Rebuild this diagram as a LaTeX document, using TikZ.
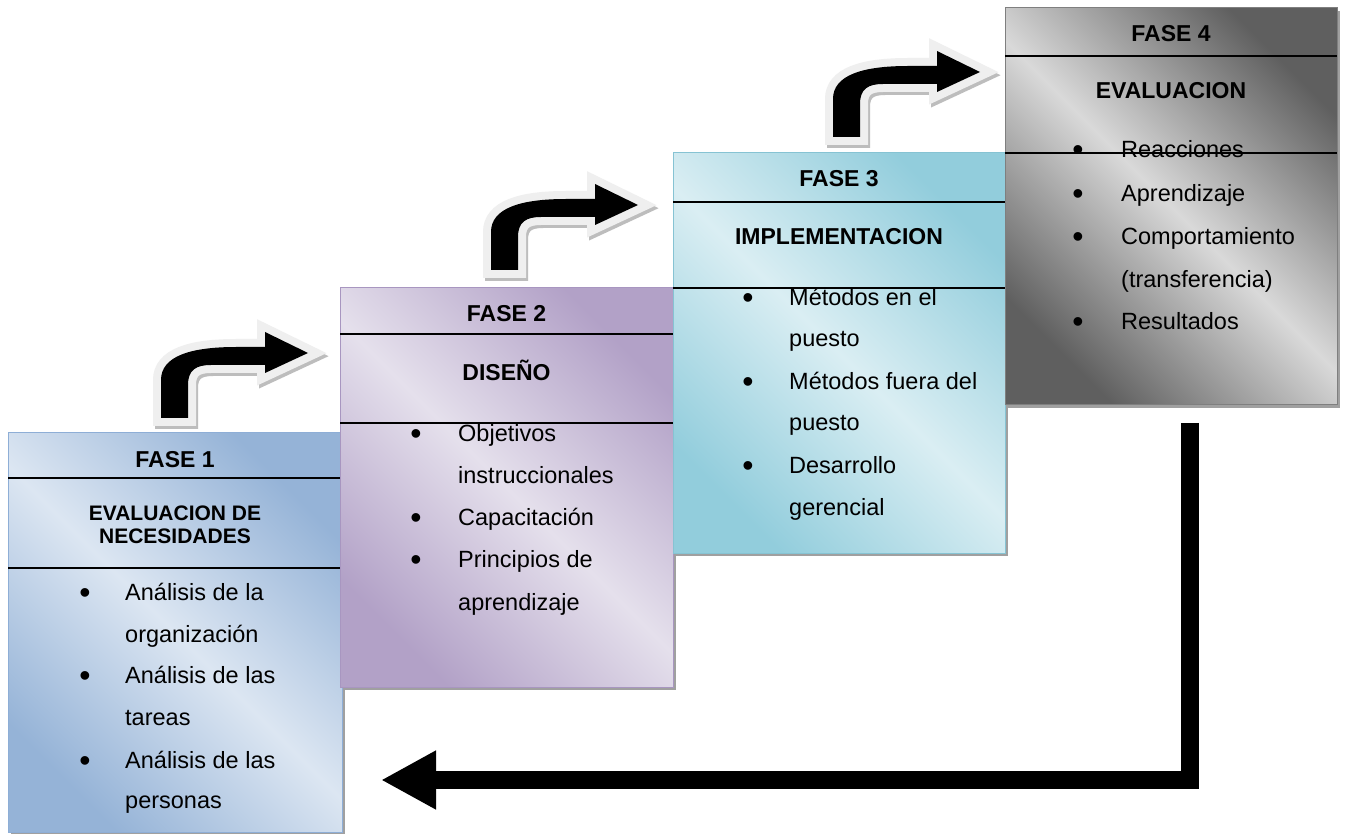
\documentclass[tikz,border=0pt]{standalone}
\usepackage{fontspec}
\setmainfont{Liberation Sans}
\usetikzlibrary{arrows.meta,shadows}
\definecolor{bOned}{HTML}{95B3D7}\definecolor{bOnel}{HTML}{DCE6F2}\definecolor{bOneb}{HTML}{8EAED6}
\definecolor{bTwod}{HTML}{B2A1C7}\definecolor{bTwol}{HTML}{E5E0EC}\definecolor{bTwob}{HTML}{A896C0}
\definecolor{bThrd}{HTML}{92CDDC}\definecolor{bThrl}{HTML}{DAEEF3}\definecolor{bThrb}{HTML}{86C3D3}
\definecolor{bFourd}{HTML}{5F5F5F}\definecolor{bFourl}{HTML}{D9D9D9}\definecolor{bFourb}{HTML}{7F7F7F}
\definecolor{arrowline}{HTML}{EFEFEF}\definecolor{arrowshadow}{HTML}{BDBDBD}\definecolor{boxshadow}{HTML}{A0A0A0}
\pgfdeclarehorizontalshading{shOne}{100bp}{color(0bp)=(bOned); color(25bp)=(bOned); color(50bp)=(bOnel); color(75bp)=(bOned); color(100bp)=(bOned)}
\pgfdeclarehorizontalshading{shTwo}{100bp}{color(0bp)=(bTwod); color(25bp)=(bTwod); color(50bp)=(bTwol); color(75bp)=(bTwod); color(100bp)=(bTwod)}
\pgfdeclarehorizontalshading{shThree}{100bp}{color(0bp)=(bThrd); color(25bp)=(bThrd); color(50bp)=(bThrl); color(75bp)=(bThrd); color(100bp)=(bThrd)}
\pgfdeclarehorizontalshading{shFour}{100bp}{color(0bp)=(bFourd); color(25bp)=(bFourd); color(50bp)=(bFourl); color(75bp)=(bFourd); color(100bp)=(bFourd)}
\tikzset{
  phasebox/.style={inner sep=0pt, outer sep=0pt, line width=1pt, shading angle=45,
    drop shadow={shadow xshift=3pt, shadow yshift=-3pt, fill=boxshadow, opacity=1}},
  sepline/.style={line width=1.4pt, black},
  head/.style={anchor=base, inner sep=0pt, font=\fontsize{23}{27}\selectfont\bfseries},
  headsmall/.style={anchor=base, inner sep=0pt, font=\fontsize{21}{25}\selectfont\bfseries},
  bul/.style={anchor=base, inner sep=0pt, yshift=-3pt, font=\fontsize{32}{36}\selectfont},
  item/.style={anchor=base west, inner sep=0pt, font=\fontsize{23.5}{28}\selectfont},
  bentarrow/.pic={
    \path[draw=arrowshadow, line width=16pt, line join=miter, shift={(2,3)}]
      (0,0) -- (0,-38) .. controls (0,-62) and (30,-71) .. (75,-71) -- (104,-71) -- (104,-86) -- (147,-65) -- (104,-45) -- (104,-53) -- (50,-53) .. controls (35,-53) and (27,-48) .. (27,-33) -- (27,0) -- cycle;
    \path[draw=arrowline, line width=16pt, line join=miter]
      (0,0) -- (0,-38) .. controls (0,-62) and (30,-71) .. (75,-71) -- (104,-71) -- (104,-86) -- (147,-65) -- (104,-45) -- (104,-53) -- (50,-53) .. controls (35,-53) and (27,-48) .. (27,-33) -- (27,0) -- cycle;
    \path[fill=black]
      (0,0) -- (0,-38) .. controls (0,-62) and (30,-71) .. (75,-71) -- (104,-71) -- (104,-86) -- (147,-65) -- (104,-45) -- (104,-53) -- (50,-53) .. controls (35,-53) and (27,-48) .. (27,-33) -- (27,0) -- cycle;
  }
}
\begin{document}
\begin{tikzpicture}[x=1pt, y=-1pt]
\useasboundingbox[fill=white] (0,0) rectangle (1345,834);

% ---------- FASE 1 ----------
\node[phasebox, shading=shOne, draw=bOneb, minimum width=334pt, minimum height=399pt] (b1) at (175,632.5) {};
\draw[sepline] (b1.west |- 0,478) -- (b1.east |- 0,478);
\draw[sepline] (b1.west |- 0,568) -- (b1.east |- 0,568);
\node[head] (h1a) at (175,467) {FASE 1};
\node[headsmall] (h1b) at (175,520) {EVALUACION DE};
\node[headsmall] (h1c) at (175,543) {NECESIDADES};
\node[bul] (d1a) at (85,600) {•};
\node[bul] (d1b) at (85,683) {•};
\node[bul] (d1c) at (85,768) {•};
\node[item] (t1a) at (125,600) {Análisis de la};
\node[item] (t1b) at (125,642) {organización};
\node[item] (t1c) at (125,683) {Análisis de las};
\node[item] (t1d) at (125,725) {tareas};
\node[item] (t1e) at (125,768) {Análisis de las};
\node[item] (t1f) at (125,808) {personas};

% ---------- FASE 2 ----------
\node[phasebox, shading=shTwo, draw=bTwob, minimum width=333pt, minimum height=399pt] (b2) at (506.5,487.5) {};
\node[head] (h2a) at (506.5,322) {FASE 2};
\node[head] (h2b) at (506.5,381) {DISEÑO};
\node[bul] (d2a) at (416,442) {•};
\node[bul] (d2b) at (416,525) {•};
\node[bul] (d2c) at (416,567) {•};
\node[item] (t2a) at (458,442) {Objetivos};
\node[item] (t2b) at (458,483) {instruccionales};
\node[item] (t2c) at (458,525) {Capacitación};
\node[item] (t2d) at (458,567) {Principios de};
\node[item] (t2e) at (458,610) {aprendizaje};
\draw[sepline] (b2.west |- 0,334) -- (b2.east |- 0,334);
\draw[sepline] (b2.west |- 0,423) -- (b2.east |- 0,423);

% ---------- FASE 3 ----------
\node[phasebox, shading=shThree, draw=bThrb, minimum width=332pt, minimum height=400pt] (b3) at (839,353) {};
\node[head] (h3a) at (839,187) {FASE 3};
\node[head] (h3b) at (839,245) {IMPLEMENTACION};
\node[bul] (d3a) at (748,306) {•};
\node[bul] (d3b) at (748,390) {•};
\node[bul] (d3c) at (748,473) {•};
\node[item] (t3a) at (789,306) {Métodos en el};
\node[item] (t3b) at (789,347) {puesto};
\node[item] (t3c) at (789,390) {Métodos fuera del};
\node[item] (t3d) at (789,431) {puesto};
\node[item] (t3e) at (789,473) {Desarrollo};
\node[item] (t3f) at (789,515) {gerencial};
\draw[sepline] (b3.west |- 0,202) -- (b3.east |- 0,202);
\draw[sepline] (b3.west |- 0,288) -- (b3.east |- 0,288);

% ---------- FASE 4 ----------
\node[phasebox, shading=shFour, draw=bFourb, minimum width=332pt, minimum height=397pt] (b4) at (1171,206.5) {};
\node[head] (h4a) at (1171,42) {FASE 4};
\node[head] (h4b) at (1171,99) {EVALUACION};
\node[bul] (d4a) at (1078,158) {•};
\node[bul] (d4b) at (1078,202) {•};
\node[bul] (d4c) at (1078,245) {•};
\node[bul] (d4d) at (1078,330) {•};
\node[item] (t4a) at (1121,158) {Reacciones};
\node[item] (t4b) at (1121,202) {Aprendizaje};
\node[item] (t4c) at (1121,245) {Comportamiento};
\node[item] (t4d) at (1121,288) {(transferencia)};
\node[item] (t4e) at (1121,330) {Resultados};
\draw[sepline] (b4.west |- 0,56) -- (b4.east |- 0,56);
\draw[sepline] (b4.west |- 0,153) -- (b4.east |- 0,153);

% ---------- bent arrows ----------
\pic at (161,418) {bentarrow};
\pic at (491,270) {bentarrow};
\pic at (833,137) {bentarrow};

% ---------- return arrow ----------
\coordinate (r0) at (1190,423);
\coordinate (r1) at (1190,780);
\coordinate (r2) at (381,780);
\draw[line width=18pt, line join=miter, -{Triangle[length=55pt,width=55pt]}] (r0) -- (r1) -- (r2);
\end{tikzpicture}
\end{document}
